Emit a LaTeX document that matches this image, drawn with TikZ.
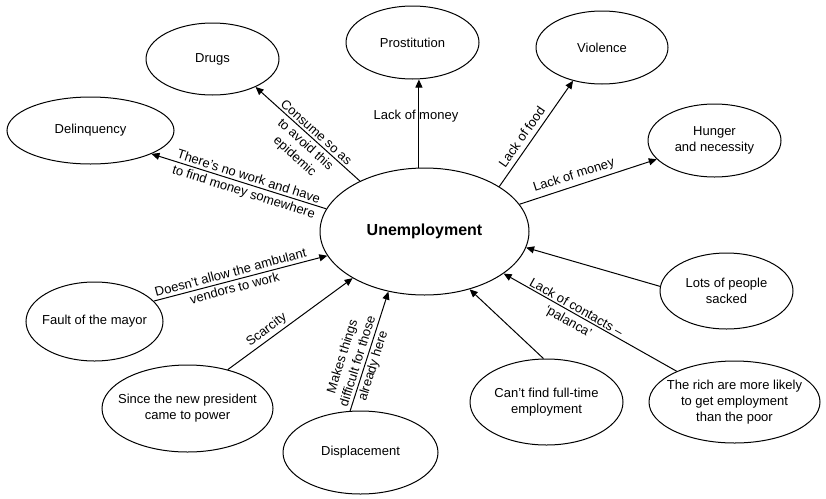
\documentclass[tikz,border=0pt]{standalone}
\usepackage{fontspec}
\setmainfont{Liberation Sans}
\usetikzlibrary{shapes.geometric,arrows.meta}
\begin{document}
\begin{tikzpicture}[x=1pt,y=-1pt,
  every node/.style={font=\fontsize{13}{16}\selectfont, align=center},
  bubble/.style 2 args={ellipse, draw, line width=1pt, inner sep=-30pt,
    minimum width=#1, minimum height=#2},
  link/.style={line width=1pt, -{Triangle[length=8pt,width=7pt]}},
  tag/.style={inner sep=0pt}
]
\useasboundingbox (0,0) rectangle (826,498);

% central concept
\node[bubble={209pt}{127pt}, font=\fontsize{16}{19}\selectfont\bfseries] (U) at (424.5,231.5) {Unemployment};

% consequences
\node[bubble={133pt}{72pt}] (drugs) at (212.5,59) {Drugs};
\node[bubble={167pt}{67pt}] (delinq) at (90.5,130.5) {Delinquency};
\node[bubble={133pt}{73pt}] (prost) at (412.5,42.5) {Prostitution};
\node[bubble={132pt}{73pt}] (viol) at (602,47.5) {Violence};
\node[bubble={133pt}{73pt}] (hunger) at (714.5,140.5) {Hunger\\and necessity};

% causes
\node[bubble={137pt}{79pt}] (mayor) at (94.5,321.5) {Fault of the mayor};
\node[bubble={171pt}{87pt}] (pres) at (187.5,408.5) {Since the new president\\came to power};
\node[bubble={155pt}{83pt}] (displ) at (360.5,452.5) {Displacement};
\node[bubble={153pt}{86pt}] (fulltime) at (546.5,402) {Can’t find full-time\\employment};
\node[bubble={171pt}{82pt}] (rich) at (734.5,402) {The rich are more likely\\to get employment\\than the poor};
\node[bubble={133pt}{76pt}] (sacked) at (726.5,291) {Lots of people\\sacked};

% outgoing links
\draw[link] (U.142.4) -- (drugs.-33.4);
\draw[link] (U.95.8) -- (U.95.8 |- prost.south);
\draw[link] (U.31.4) -- (viol.-131.9);
\draw[link] (U.16.1) -- (hunger.198.4);
\draw[link] (U.167.8) -- (delinq.-21.5);

% incoming links
\draw[link] (mayor.19) -- (U.-166.4);
\draw[link] (pres.44.3) -- (U.-147.9);
\draw[link] (displ.104.4) -- (U.-121.8);
\draw[link] (fulltime.94.7) -- (U.-52.1);
\draw[link] (rich.152.5) -- (U.-28.4);
\draw[link] (sacked.176.6) -- (U.-9.7);

% link labels
\node[tag, rotate=-41.8] (l-drugs) at (305,145) {Consume so as\\to avoid this\\epidemic};
\node[tag, rotate=-17.7] (l-delinq) at (246,185) {There’s no work and have\\to find money somewhere};
\node[tag] (l-prost) at (416,116) {Lack of money};
\node[tag, rotate=55.3] (l-viol) at (521.7,136.7) {Lack of food};
\node[tag, rotate=17.9] (l-hunger) at (574,175.7) {Lack of money};
\node[tag, rotate=14.9] (l-mayor) at (232.5,280) {Doesn’t allow the ambulant\\vendors to work};
\node[tag, rotate=36.6] (l-pres) at (266.7,330) {Scarcity};
\node[tag, rotate=72.7] (l-displ) at (358.2,361.4) {Makes things\\difficult for those\\already here};
\node[tag, rotate=-29.5] (l-rich) at (572,315) {Lack of contacts –\\‘palanca’};
\end{tikzpicture}
\end{document}
